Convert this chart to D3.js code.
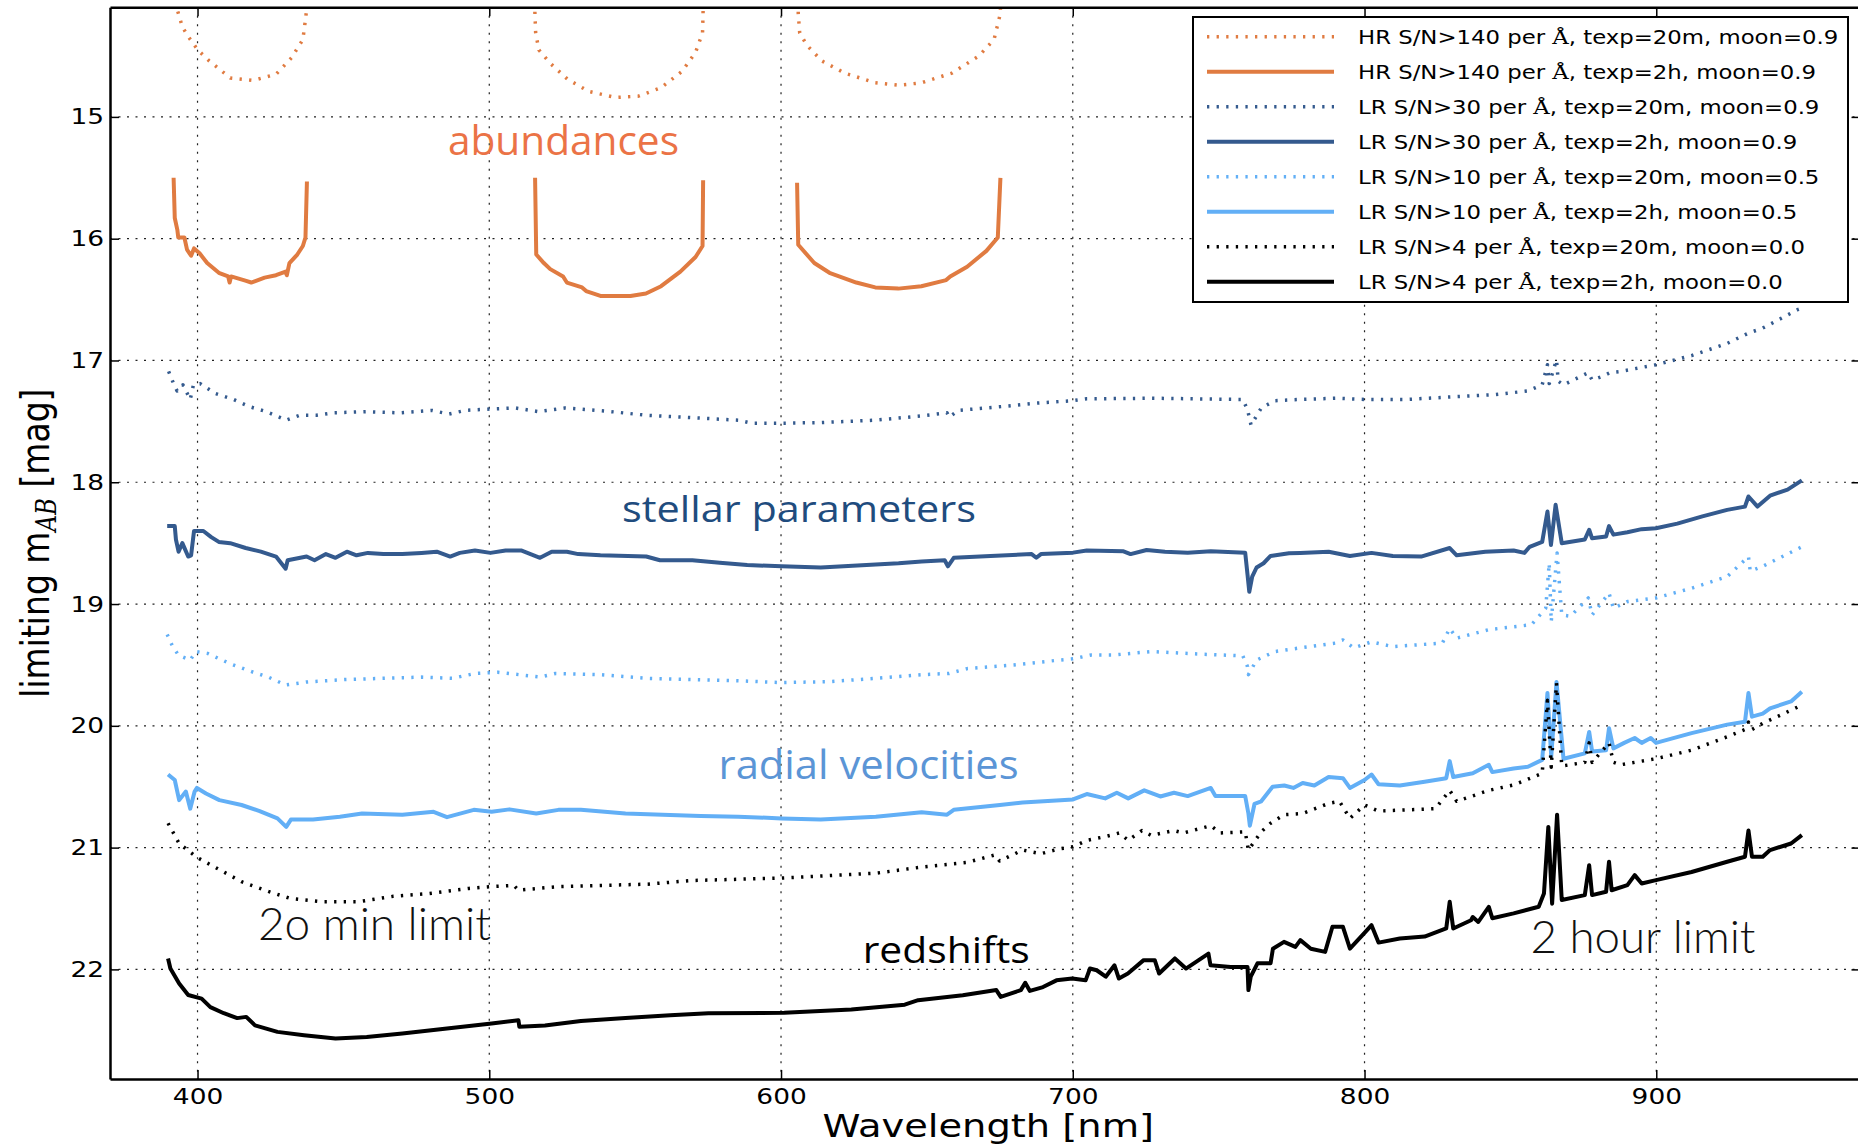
<!DOCTYPE html>
<html>
<head>
<meta charset="utf-8">
<script src="https://cdn.jsdelivr.net/npm/d3@7"></script>
<style>
  body { margin: 0; background: #fff; }
  svg { display: block; }
</style>
</head>
<body>
<svg id="chart" width="1858" height="1146"></svg>
<script>
const xTicks = [400, 500, 600, 700, 800, 900];
const yTicks = [15, 16, 17, 18, 19, 20, 21, 22];

// each series is [wavelength nm, limiting mag]; null breaks the line
const hr20m = [
  [392.6, 13.9], [392.8, 14.10], [394.8, 14.26], [396.8, 14.34], [400.1, 14.45], [404.0, 14.54], [411.2, 14.68],
  [419.1, 14.70], [426.9, 14.65], [432.2, 14.515], [436.1, 14.365], [437.0, 14.20], [437.5, 14.10], [437.5, 13.9],
  null,
  [515.6, 13.9], [515.6, 14.12], [515.9, 14.31], [517.0, 14.45], [520.9, 14.56], [526.8, 14.69], [534.0, 14.79],
  [543.2, 14.84], [551.1, 14.83], [558.9, 14.76], [566.1, 14.625], [570.7, 14.47], [573.1, 14.31], [573.3, 14.12], [573.3, 13.9],
  null,
  [605.9, 13.9], [605.9, 14.15], [606.4, 14.31], [608.8, 14.41], [614.0, 14.54], [621.8, 14.64], [632.3, 14.72],
  [640.2, 14.74], [648.1, 14.72], [658.6, 14.64], [667.8, 14.50], [673.0, 14.365], [675.2, 14.15], [675.2, 13.9]
];
const hr2h = [
  [391.8, 15.50], [392.2, 15.83], [393.1, 15.93], [393.4, 15.99], [395.5, 15.99], [396.4, 16.09], [397.8, 16.14],
  [398.8, 16.08], [400.7, 16.12], [403.3, 16.20], [407.3, 16.28], [410.5, 16.31], [411.0, 16.36], [411.5, 16.31],
  [416.4, 16.345], [418.4, 16.36], [423.0, 16.32], [426.9, 16.30], [430.2, 16.27], [430.6, 16.30], [431.5, 16.20],
  [434.2, 16.13], [436.1, 16.06], [437.0, 15.99], [437.5, 15.53],
  null,
  [515.7, 15.50], [516.1, 16.13], [518.7, 16.20], [520.9, 16.25], [525.3, 16.31], [526.6, 16.36], [531.8, 16.40],
  [533.2, 16.43], [538.1, 16.47], [541.2, 16.47], [548.4, 16.47], [553.7, 16.45], [558.9, 16.39], [565.5, 16.27],
  [570.7, 16.15], [573.1, 16.06], [573.3, 15.52],
  null,
  [605.5, 15.54], [605.9, 16.05], [611.4, 16.20], [616.6, 16.28], [625.8, 16.36], [632.3, 16.40], [640.2, 16.41],
  [648.1, 16.39], [656.6, 16.34], [658.0, 16.31], [663.8, 16.23], [670.4, 16.10], [674.3, 15.99], [675.2, 15.50]
];
const lr30_20m = [
  [390.1, 17.09], [391.8, 17.19], [393.0, 17.25], [395.0, 17.20], [397.5, 17.32], [398.6, 17.20], [400.9, 17.19],
  [406.0, 17.27], [412.3, 17.32], [417.9, 17.38], [423.6, 17.42], [430.4, 17.49], [435.0, 17.45], [440.7, 17.45],
  [446.4, 17.43], [457.7, 17.42], [469.1, 17.43], [480.4, 17.41], [486.1, 17.44], [491.8, 17.41], [499.2, 17.40],
  [508.9, 17.39], [516.8, 17.42], [525.9, 17.39], [531.6, 17.40], [541.8, 17.42], [553.8, 17.45], [569.6, 17.47],
  [585.3, 17.49], [590.0, 17.515], [600.2, 17.515], [613.6, 17.51], [632.5, 17.49], [648.2, 17.455], [656.9, 17.43],
  [657.6, 17.465], [660.8, 17.41], [679.7, 17.37], [687.5, 17.35], [700.1, 17.33], [704.8, 17.315], [726.9, 17.31],
  [742.6, 17.315], [758.3, 17.32], [759.9, 17.405], [761.1, 17.53], [764.6, 17.39], [769.3, 17.33], [778.0, 17.32],
  [790.2, 17.31], [800.0, 17.32], [814.5, 17.32], [829.2, 17.30], [845.0, 17.28], [856.0, 17.25], [860.9, 17.20],
  [862.7, 17.035], [863.3, 17.19], [865.8, 16.995], [866.4, 17.17], [868.2, 17.20], [876.7, 17.10], [878.0, 17.16],
  [881.6, 17.13], [884.1, 17.10], [887.7, 17.09], [899.9, 17.035], [912.1, 16.96], [924.3, 16.86], [931.6, 16.775],
  [936.5, 16.734], [948.7, 16.58], [949.9, 16.57]
];
const lr30_2h = [
  [389.6, 18.36], [392.2, 18.36], [392.6, 18.47], [393.5, 18.57], [394.8, 18.50], [396.8, 18.61], [397.8, 18.60],
  [398.8, 18.40], [402.0, 18.40], [404.7, 18.45], [407.3, 18.49], [411.2, 18.50], [416.5, 18.54], [421.7, 18.57],
  [426.9, 18.61], [430.2, 18.71], [430.9, 18.64], [437.4, 18.61], [440.1, 18.64], [444.0, 18.59], [447.3, 18.62],
  [451.2, 18.57], [454.5, 18.60], [458.4, 18.58], [463.7, 18.59], [470.2, 18.59], [476.8, 18.58], [482.0, 18.57],
  [486.6, 18.61], [489.9, 18.58], [495.1, 18.56], [500.4, 18.58], [505.6, 18.56], [510.9, 18.56], [517.4, 18.62],
  [521.4, 18.57], [526.6, 18.57], [530.5, 18.59], [538.1, 18.60], [553.8, 18.61], [558.5, 18.64], [569.6, 18.64],
  [579.0, 18.66], [588.4, 18.68], [600.2, 18.69], [613.6, 18.70], [624.6, 18.685], [640.3, 18.665], [648.2, 18.65],
  [656.1, 18.64], [657.2, 18.69], [659.2, 18.62], [671.8, 18.605], [685.9, 18.59], [687.5, 18.62], [689.1, 18.59],
  [700.1, 18.578], [704.8, 18.56], [717.4, 18.567], [719.8, 18.59], [725.3, 18.556], [731.6, 18.57], [739.4, 18.578],
  [747.3, 18.567], [759.1, 18.578], [759.9, 18.76], [760.5, 18.90], [761.5, 18.775], [763.0, 18.70], [765.4, 18.665],
  [767.8, 18.605], [774.1, 18.583], [778.0, 18.58], [787.7, 18.57], [795.0, 18.605], [802.4, 18.58], [809.7, 18.605],
  [819.4, 18.61], [829.2, 18.54], [831.6, 18.60], [841.4, 18.57], [851.1, 18.56], [854.8, 18.58], [856.6, 18.53],
  [860.9, 18.49], [862.7, 18.24], [863.9, 18.515], [865.5, 18.185], [867.6, 18.50], [875.5, 18.47], [877.0, 18.39],
  [878.0, 18.46], [882.8, 18.445], [883.8, 18.36], [885.3, 18.43], [890.1, 18.41], [895.0, 18.385], [899.9, 18.377],
  [907.2, 18.34], [915.8, 18.28], [924.3, 18.227], [930.4, 18.20], [931.6, 18.117], [934.7, 18.20], [939.0, 18.11],
  [945.0, 18.06], [949.9, 17.985]
];
const lr10_20m = [
  [389.6, 19.25], [391.5, 19.35], [393.5, 19.42], [397.5, 19.46], [399.4, 19.39], [403.4, 19.405], [411.2, 19.49],
  [419.1, 19.56], [424.3, 19.60], [430.2, 19.665], [437.4, 19.64], [450.5, 19.62], [463.7, 19.61], [476.8, 19.60],
  [487.3, 19.61], [495.1, 19.57], [503.0, 19.56], [517.4, 19.60], [522.7, 19.57], [538.1, 19.58], [553.8, 19.61],
  [569.6, 19.62], [585.3, 19.63], [600.2, 19.645], [616.7, 19.637], [632.5, 19.61], [648.2, 19.58], [657.6, 19.57],
  [663.9, 19.53], [679.7, 19.50], [695.4, 19.46], [700.1, 19.45], [706.4, 19.418], [714.3, 19.418], [726.9, 19.39],
  [742.6, 19.41], [758.3, 19.426], [759.9, 19.514], [760.2, 19.58], [763.0, 19.46], [769.3, 19.39], [778.0, 19.36],
  [790.2, 19.32], [792.6, 19.295], [796.3, 19.36], [802.4, 19.31], [809.7, 19.35], [826.7, 19.32], [829.2, 19.20],
  [831.6, 19.28], [842.6, 19.21], [857.2, 19.17], [862.1, 19.035], [863.3, 18.665], [864.0, 19.145], [866.0, 18.58],
  [867.6, 19.09], [870.6, 19.10], [876.7, 18.95], [878.0, 19.09], [883.8, 18.91], [885.3, 19.035], [890.1, 18.98],
  [899.9, 18.95], [912.1, 18.87], [924.3, 18.775], [931.6, 18.61], [932.2, 18.73], [936.5, 18.69], [949.9, 18.53]
];
const lr10_2h = [
  [389.9, 20.40], [392.2, 20.445], [393.7, 20.61], [396.0, 20.54], [397.5, 20.68], [399.0, 20.54], [399.8, 20.51],
  [402.9, 20.555], [407.5, 20.61], [415.1, 20.65], [421.3, 20.70], [427.4, 20.76], [430.4, 20.83], [432.0, 20.77],
  [439.6, 20.77], [448.8, 20.747], [456.4, 20.72], [470.2, 20.73], [480.9, 20.706], [485.5, 20.75], [494.7, 20.69],
  [500.8, 20.706], [506.9, 20.686], [516.1, 20.72], [523.7, 20.69], [531.4, 20.69], [546.7, 20.72], [562.0, 20.733],
  [572.4, 20.74], [585.3, 20.746], [600.2, 20.76], [613.6, 20.77], [632.5, 20.746], [648.2, 20.71], [656.9, 20.73],
  [659.2, 20.69], [675.0, 20.65], [682.8, 20.63], [700.1, 20.604], [704.8, 20.56], [711.1, 20.596], [715.1, 20.55],
  [719.0, 20.596], [724.5, 20.53], [730.0, 20.58], [734.7, 20.55], [739.4, 20.577], [747.3, 20.51], [748.9, 20.577],
  [759.1, 20.577], [760.2, 20.72], [760.7, 20.82], [762.3, 20.64], [764.6, 20.62], [768.5, 20.50], [772.5, 20.49],
  [775.6, 20.51], [778.8, 20.47], [782.8, 20.49], [787.7, 20.42], [792.6, 20.43], [795.0, 20.51], [800.0, 20.445],
  [802.4, 20.40], [804.8, 20.48], [812.1, 20.49], [820.6, 20.46], [828.0, 20.43], [829.2, 20.29], [830.4, 20.42],
  [837.1, 20.39], [842.6, 20.32], [843.8, 20.38], [851.1, 20.35], [856.0, 20.336], [860.9, 20.28], [862.7, 19.73],
  [864.0, 20.25], [865.8, 19.64], [868.2, 20.27], [875.5, 20.226], [877.0, 20.05], [878.0, 20.21], [882.8, 20.20],
  [883.8, 20.02], [885.3, 20.185], [889.0, 20.14], [892.6, 20.10], [895.0, 20.14], [898.1, 20.10], [899.9, 20.14],
  [912.1, 20.06], [924.3, 19.99], [930.4, 19.966], [931.6, 19.73], [932.8, 19.925], [936.5, 19.90], [939.0, 19.856],
  [946.2, 19.80], [949.9, 19.72]
];
const lr4_20m = [
  [389.9, 20.80], [393.7, 20.966], [399.8, 21.08], [405.9, 21.16], [415.1, 21.28], [424.3, 21.36], [431.9, 21.418],
  [442.7, 21.445], [454.9, 21.445], [467.1, 21.40], [479.4, 21.377], [493.1, 21.335], [500.8, 21.32], [508.4, 21.31],
  [510.0, 21.35], [523.7, 21.32], [539.0, 21.31], [554.3, 21.30], [569.6, 21.27], [585.3, 21.26], [600.2, 21.25],
  [616.7, 21.23], [632.5, 21.21], [648.2, 21.16], [663.9, 21.12], [673.4, 21.06], [674.9, 21.11], [682.8, 21.02],
  [689.1, 21.05], [695.4, 21.01], [700.1, 20.993], [704.8, 20.94], [711.1, 20.91], [715.9, 20.88], [719.0, 20.94],
  [723.7, 20.86], [726.9, 20.90], [734.7, 20.86], [737.9, 20.88], [747.3, 20.82], [750.5, 20.88], [759.1, 20.87],
  [760.2, 21.02], [764.6, 20.87], [767.8, 20.80], [772.5, 20.73], [778.8, 20.72], [787.7, 20.637], [791.4, 20.62],
  [795.0, 20.76], [800.0, 20.65], [804.8, 20.70], [814.5, 20.69], [824.3, 20.68], [829.2, 20.53], [831.6, 20.62],
  [842.6, 20.53], [851.1, 20.486], [860.9, 20.39], [862.7, 19.79], [864.0, 20.34], [865.8, 19.65], [867.6, 20.33],
  [875.5, 20.30], [877.0, 20.14], [878.0, 20.30], [883.8, 20.14], [885.3, 20.30], [887.7, 20.32], [899.9, 20.27],
  [912.1, 20.20], [924.3, 20.09], [930.4, 20.03], [931.6, 19.97], [932.8, 20.03], [936.5, 19.98], [949.9, 19.83]
];
const lr4_2h = [
  [389.9, 21.91], [390.7, 21.993], [393.7, 22.116], [396.8, 22.21], [401.4, 22.24], [404.4, 22.31], [409.0, 22.36],
  [413.6, 22.40], [416.7, 22.39], [419.7, 22.46], [427.4, 22.513], [436.5, 22.54], [447.3, 22.568], [458.0, 22.555],
  [470.2, 22.527], [485.5, 22.486], [500.8, 22.445], [510.0, 22.417], [510.3, 22.47], [519.1, 22.46], [531.4, 22.423],
  [546.7, 22.40], [562.0, 22.377], [575.1, 22.36], [601.1, 22.357], [624.1, 22.33], [642.4, 22.29], [647.0, 22.253],
  [662.3, 22.212], [673.8, 22.17], [675.3, 22.226], [682.2, 22.17], [683.7, 22.11], [685.3, 22.177], [689.8, 22.145],
  [694.4, 22.09], [699.8, 22.075], [704.4, 22.09], [705.9, 21.993], [708.2, 22.007], [711.3, 22.06], [714.3, 21.966],
  [715.8, 22.075], [718.9, 22.034], [724.3, 21.924], [728.1, 21.924], [729.6, 22.034], [735.0, 21.91], [738.8, 21.993],
  [746.5, 21.87], [747.2, 21.966], [754.1, 21.98], [759.9, 21.98], [760.2, 22.17], [761.0, 22.06], [763.3, 21.95],
  [767.8, 21.95], [768.6, 21.83], [772.4, 21.774], [776.3, 21.815], [778.0, 21.76], [781.6, 21.83], [786.5, 21.856],
  [789.0, 21.65], [792.6, 21.65], [795.0, 21.83], [800.0, 21.70], [802.4, 21.637], [804.8, 21.78], [812.1, 21.746],
  [820.6, 21.73], [828.0, 21.664], [829.2, 21.445], [830.4, 21.664], [836.5, 21.596], [837.1, 21.57], [839.0, 21.61],
  [842.6, 21.486], [843.8, 21.58], [851.1, 21.54], [859.7, 21.486], [861.5, 21.377], [863.0, 20.83], [864.3, 21.46],
  [866.0, 20.73], [867.6, 21.43], [875.5, 21.39], [877.0, 21.144], [878.0, 21.39], [882.8, 21.363], [883.8, 21.116],
  [884.7, 21.35], [890.1, 21.308], [892.6, 21.226], [895.0, 21.295], [899.9, 21.267], [912.1, 21.20], [924.3, 21.116],
  [930.4, 21.075], [931.6, 20.86], [932.8, 21.075], [936.5, 21.075], [939.0, 21.02], [946.2, 20.966], [949.9, 20.897]
];

const legendLabels = [
  "HR S/N>140 per Å, texp=20m, moon=0.9",
  "HR S/N>140 per Å, texp=2h, moon=0.9",
  "LR S/N>30 per Å, texp=20m, moon=0.9",
  "LR S/N>30 per Å, texp=2h, moon=0.9",
  "LR S/N>10 per Å, texp=20m, moon=0.5",
  "LR S/N>10 per Å, texp=2h, moon=0.5",
  "LR S/N>4 per Å, texp=20m, moon=0.0",
  "LR S/N>4 per Å, texp=2h, moon=0.0"
];

// annotation text and where it starts (wavelength, mag of baseline)
const noteText = ["abundances", "stellar parameters", "radial velocities", "redshifts", "2o min limit", "2 hour limit"];
const noteAt = [[485.85, 15.313], [545.5, 18.324], [578.6, 20.439], [628.0, 21.95], [420.7, 21.759], [856.9, 21.868]];

const orange = "#E07B41", navy = "#345A8E", sky = "#62AFF6", black = "#000";
const series = [
  { data: hr20m, color: orange, dotted: true },
  { data: hr2h, color: orange, dotted: false },
  { data: lr30_20m, color: navy, dotted: true },
  { data: lr30_2h, color: navy, dotted: false },
  { data: lr10_20m, color: sky, dotted: true },
  { data: lr10_2h, color: sky, dotted: false },
  { data: lr4_20m, color: black, dotted: true },
  { data: lr4_2h, color: black, dotted: false }
];
const thinFont = "'Lato Light', 'Roboto Light', 'Liberation Sans Narrow', Lato, sans-serif";
const noteStyle = [
  { color: "#EB7346", font: "'Open Sans'", size: 40, len: 231 },
  { color: "#1F4C7E", font: "'Open Sans'", size: 37, len: 354 },
  { color: "#5B95D6", font: "'Open Sans'", size: 40, len: 300 },
  { color: "#000", font: "'Open Sans'", size: 37, len: 167 },
  { color: "#111", font: thinFont, size: 46, len: 233, weight: 300 },
  { color: "#111", font: thinFont, size: 45, len: 225, weight: 300 }
];

const SX = 1.2; // the source figure was stretched sideways, its text too
const dotted = "2.3,7.3";
const dotWidth = 3.5, solidWidth = 4;

const svg = d3.select("#chart");
const x = d3.scaleLinear().domain([370, 970]).range([110, 1860.5]);
const y = d3.scaleLinear().domain([14.1, 22.9]).range([7.3, 1079]);
const [plotL, plotR] = x.range();
const [plotT, plotB] = y.range();

svg.append("defs").append("clipPath").attr("id", "plot")
  .append("rect").attr("x", plotL).attr("y", plotT).attr("width", plotR - plotL).attr("height", plotB - plotT);

// grid
const grid = svg.append("g")
  .attr("stroke", "#222").attr("stroke-width", 1.2).attr("stroke-dasharray", "2,6.5");
grid.selectAll(".gx").data(xTicks).enter().append("line")
  .attr("x1", d => x(d)).attr("x2", d => x(d)).attr("y1", plotT).attr("y2", plotB);
grid.selectAll(".gy").data(yTicks).enter().append("line")
  .attr("x1", plotL).attr("x2", plotR).attr("y1", d => y(d)).attr("y2", d => y(d));

// curves
const line = d3.line()
  .defined(d => d !== null)
  .x(d => x(d[0]))
  .y(d => y(d[1]));

svg.append("g").attr("clip-path", "url(#plot)")
  .selectAll("path").data(series).enter().append("path")
  .attr("d", d => line(d.data))
  .attr("fill", "none")
  .attr("stroke", d => d.color)
  .attr("stroke-width", d => d.dotted ? dotWidth : solidWidth)
  .attr("stroke-dasharray", d => d.dotted ? dotted : null)
  .attr("stroke-linejoin", "round");

// axes, ticks point inwards on all four sides
function styleAxis(g) {
  g.attr("font-family", "'DejaVu Sans', sans-serif").attr("font-size", 22);
  g.select(".domain").attr("stroke", "#000").attr("stroke-width", 2.5);
  g.selectAll(".tick line").attr("stroke", "#000").attr("stroke-width", 1.5);
  g.selectAll(".tick text").attr("fill", "#000").attr("transform", `scale(${SX},1)`);
}
svg.append("g").attr("transform", `translate(0,${plotB})`)
  .call(d3.axisBottom(x).tickValues(xTicks).tickSizeInner(-9).tickSizeOuter(0).tickPadding(9))
  .call(styleAxis);
svg.append("g").attr("transform", `translate(0,${plotT})`)
  .call(d3.axisTop(x).tickValues(xTicks).tickSizeInner(-9).tickSizeOuter(0).tickFormat(() => ""))
  .call(styleAxis);
svg.append("g").attr("transform", `translate(${plotL},0)`)
  .call(d3.axisLeft(y).tickValues(yTicks).tickSizeInner(-9).tickSizeOuter(0).tickPadding(5))
  .call(styleAxis);
svg.append("g").attr("transform", `translate(${plotR},0)`)
  .call(d3.axisRight(y).tickValues(yTicks).tickSizeInner(-9).tickSizeOuter(0).tickFormat(() => ""))
  .call(styleAxis);

// axis titles
svg.append("text")
  .attr("transform", `translate(${(plotL + plotR) / 2 + 3},1137) scale(${SX},1)`)
  .attr("text-anchor", "middle")
  .attr("font-family", "'DejaVu Sans', sans-serif").attr("font-size", 32)
  .text("Wavelength [nm]");

const yl = svg.append("text")
  .attr("transform", `translate(49,${(plotT + plotB) / 2}) scale(${SX},1) rotate(-90)`)
  .attr("text-anchor", "middle")
  .attr("font-family", "'DejaVu Sans', sans-serif").attr("font-size", 33);
yl.append("tspan").text("limiting m");
yl.append("tspan").attr("font-family", "'DejaVu Serif', serif").attr("font-style", "italic")
  .attr("font-size", 23).attr("dy", 6).text("AB");
yl.append("tspan").attr("dy", -6).text(" [mag]");

// annotations
svg.append("g").selectAll("text").data(noteText).enter().append("text")
  .attr("x", (d, i) => x(noteAt[i][0]))
  .attr("y", (d, i) => y(noteAt[i][1]))
  .attr("fill", (d, i) => noteStyle[i].color)
  .attr("font-family", (d, i) => noteStyle[i].font)
  .attr("font-size", (d, i) => noteStyle[i].size)
  .attr("font-weight", (d, i) => noteStyle[i].weight || 400)
  .attr("textLength", (d, i) => noteStyle[i].len)
  .attr("lengthAdjust", "spacingAndGlyphs")
  .text(d => d);

// legend
const legend = svg.append("g").attr("transform", "translate(1193,17)");
legend.append("rect")
  .attr("width", 655).attr("height", 285)
  .attr("fill", "#fff").attr("stroke", "#000").attr("stroke-width", 2);
const entry = legend.selectAll(".entry").data(legendLabels).enter().append("g")
  .attr("transform", (d, i) => `translate(0,${19.7 + i * 35})`);
entry.append("line")
  .attr("x1", 14).attr("x2", 141)
  .attr("stroke", (d, i) => series[i].color)
  .attr("stroke-width", (d, i) => series[i].dotted ? dotWidth : solidWidth)
  .attr("stroke-dasharray", (d, i) => series[i].dotted ? dotted : null);
const label = entry.append("text")
  .attr("transform", `translate(165,7) scale(${SX},1)`)
  .attr("font-family", "'DejaVu Sans', sans-serif").attr("font-size", 19);
label.each(function (d) {
  const parts = d.split("Å");
  const t = d3.select(this);
  t.append("tspan").text(parts[0]);
  t.append("tspan").attr("font-family", "'DejaVu Serif', serif").text("Å");
  t.append("tspan").text(parts[1]);
});
</script>
</body>
</html>
